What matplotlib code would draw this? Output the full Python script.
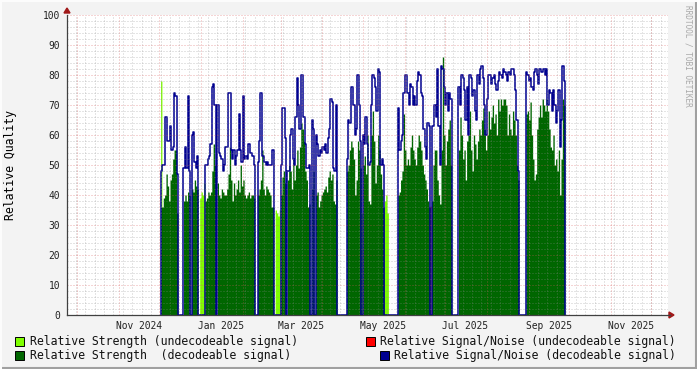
import numpy as np
import pandas as pd
import matplotlib
matplotlib.use('Agg')
import matplotlib.pyplot as plt
import matplotlib.dates as mdates
from matplotlib.patches import Rectangle, Polygon
from matplotlib.lines import Line2D

# daily values starting 2024-12-02, 0 = no data
start_day = '2024-12-02'

rs_dec = [
    36, 36, 39, 40, 47, 43, 38, 45, 47, 52,
    55, 55, 34, 0, 0, 0, 0, 38, 40, 38,
    41, 40, 0, 42, 41, 45, 43, 42, 0, 0,
    0, 0, 0, 38, 39, 41, 40, 41, 48, 57,
    50, 0, 44, 40, 39, 42, 41, 40, 40, 42,
    47, 56, 45, 38, 44, 40, 42, 45, 41, 50,
    43, 45, 40, 39, 40, 41, 39, 40, 40, 39,
    0, 0, 40, 42, 45, 55, 42, 40, 43, 42,
    41, 40, 36, 36, 0, 0, 0, 0, 0, 40,
    46, 48, 44, 0, 45, 50, 48, 42, 52, 45,
    50, 55, 49, 56, 64, 62, 58, 48, 45, 36,
    37, 0, 42, 48, 0, 40, 41, 36, 38, 40,
    41, 42, 43, 41, 46, 48, 45, 47, 38, 37,
    45, 0, 0, 0, 0, 0, 0, 0, 48, 50,
    55, 58, 56, 52, 40, 45, 58, 55, 49, 0,
    50, 53, 47, 60, 38, 37, 60, 68, 58, 44,
    50, 60, 55, 47, 42, 36, 0, 0, 0, 0,
    0, 0, 0, 0, 0, 0, 40, 41, 45, 48,
    67, 55, 50, 52, 50, 56, 60, 55, 52, 50,
    56, 60, 58, 55, 50, 47, 45, 42, 38, 36,
    0, 38, 50, 55, 55, 45, 40, 37, 55, 86,
    60, 50, 58, 62, 65, 50, 0, 0, 0, 0,
    0, 55, 66, 60, 52, 55, 45, 58, 60, 68,
    55, 48, 60, 57, 52, 58, 62, 60, 65, 69,
    62, 55, 60, 68, 62, 66, 70, 64, 67, 60,
    72, 68, 72, 70, 72, 72, 70, 60, 67, 62,
    60, 68, 65, 60, 50, 45, 0, 0, 0, 0,
    0, 67, 68, 65, 71, 60, 52, 45, 47, 62,
    66, 70, 66, 72, 70, 68, 72, 68, 62, 56,
    55, 60, 50, 52, 48, 55, 40, 52, 72, 70,
]

sn_dec = [
    48, 50, 50, 66, 66, 58, 58, 63, 55, 56,
    74, 73, 47, 0, 0, 0, 0, 49, 56, 49,
    73, 48, 0, 60, 61, 51, 49, 53, 0, 0,
    0, 0, 0, 50, 50, 52, 53, 57, 76, 77,
    70, 0, 70, 54, 53, 52, 48, 50, 56, 56,
    74, 74, 55, 52, 55, 50, 53, 55, 67, 55,
    51, 73, 52, 53, 52, 57, 54, 54, 53, 50,
    0, 0, 51, 58, 74, 53, 53, 51, 50, 51,
    50, 50, 50, 55, 0, 0, 0, 0, 0, 50,
    69, 69, 59, 0, 48, 48, 60, 62, 52, 50,
    66, 79, 70, 62, 80, 80, 66, 57, 49, 49,
    50, 0, 65, 62, 0, 60, 57, 53, 55, 54,
    56, 55, 57, 54, 59, 62, 72, 71, 49, 48,
    70, 0, 0, 0, 0, 0, 0, 0, 52, 65,
    64, 76, 76, 70, 60, 62, 80, 70, 58, 0,
    60, 57, 66, 57, 50, 51, 70, 80, 79, 76,
    68, 82, 81, 50, 52, 50, 0, 0, 0, 0,
    0, 0, 0, 0, 0, 0, 69, 55, 58, 60,
    74, 80, 80, 74, 70, 77, 76, 70, 73, 70,
    78, 81, 80, 74, 73, 62, 56, 52, 64, 63,
    0, 63, 63, 70, 66, 82, 63, 50, 83, 82,
    76, 70, 74, 68, 74, 72, 0, 0, 0, 0,
    0, 76, 70, 80, 79, 75, 65, 76, 60, 80,
    79, 73, 75, 68, 65, 80, 77, 82, 83, 79,
    70, 60, 72, 80, 80, 77, 79, 80, 77, 75,
    78, 81, 80, 79, 82, 81, 80, 78, 81, 80,
    82, 82, 80, 75, 65, 48, 0, 0, 0, 0,
    0, 81, 80, 78, 79, 76, 75, 81, 82, 80,
    77, 82, 81, 81, 82, 80, 82, 70, 75, 74,
    68, 75, 70, 64, 68, 75, 56, 65, 83, 78,
]

# undecodeable samples (day index, value)
und_days = [0, 29, 30, 31, 32, 85, 86, 87, 88, 149, 166, 167, 168]
rs_und_vals = [78, 39, 41, 40, 44, 35, 34, 33, 35, 34, 38, 40, 34]
sn_und_days = [200]
sn_und_vals = [36]

x_labels = ['Nov 2024', 'Jan 2025', 'Mar 2025', 'May 2025', 'Jul 2025', 'Sep 2025', 'Nov 2025']
label_dates = ['2024-11-16', '2025-01-16', '2025-03-16', '2025-05-16', '2025-07-16', '2025-09-16', '2025-11-16']

LGREEN = '#7fff00'
DGREEN = '#006600'
NAVY = '#000090'
RED = '#ff0000'
MONO = 'DejaVu Sans Mono'

n = len(rs_dec)
edges = mdates.date2num(pd.date_range(start_day, periods=n + 1, freq='D'))
rs_dec = np.array(rs_dec, float)
sn_dec = np.array(sn_dec, float)
rs_und = np.zeros(n)
rs_und[und_days] = rs_und_vals

W, H = 697, 369
fig = plt.figure(figsize=(W / 100, H / 100), dpi=100, facecolor='#f3f3f3')
ax = fig.add_axes([67 / W, 1 - 315 / H, (668 - 67) / W, 300 / H])
ax.set_facecolor('white')

nov1 = mdates.date2num(pd.Timestamp('2024-11-01'))
x0, x1 = nov1 - 38.4, nov1 + 407.4
ax.set_xlim(x0, x1)
ax.set_ylim(0, 100)

# areas and lines
ax.fill_between(edges, np.append(rs_und, rs_und[-1]), step='post', color=LGREEN, lw=0, zorder=1)
for d, v in zip(sn_und_days, sn_und_vals):
    ax.step([edges[d], edges[d], edges[d + 1]], [0, v, 0], where='post', color=RED, lw=1.0, zorder=2)
ax.fill_between(edges, np.append(rs_dec, rs_dec[-1]), step='post', color=DGREEN, lw=0, zorder=3)
xs = np.concatenate([[edges[0]], edges])
ys = np.concatenate([[0], sn_dec, [0]])
ax.step(xs, ys, where='post', color=NAVY, lw=1.1, zorder=4)

# grid on top
minor_c = (0.55, 0.55, 0.55, 0.45)
major_c = (0.85, 0.35, 0.35, 0.5)
dots = (0, (1, 2))
weeks = mdates.date2num(pd.date_range(mdates.num2date(x0).date(), mdates.num2date(x1).date(), freq='W-MON'))
months = mdates.date2num(pd.date_range('2024-10-01', '2025-12-31', freq='MS'))
months = months[(months > x0) & (months < x1)]
ax.vlines(weeks, 0, 100, colors=[minor_c], lw=0.72, linestyles=[dots], zorder=5)
ax.vlines(months, 0, 100, colors=[major_c], lw=0.72, linestyles=[dots], zorder=6)
yminor = [v for v in range(2, 100, 2) if v % 10]
ax.hlines(yminor, x0, x1, colors=[minor_c], lw=0.72, linestyles=[dots], zorder=5)
ax.hlines(range(10, 101, 10), x0, x1, colors=[major_c], lw=0.72, linestyles=[dots], zorder=6)

for s in ['top', 'right']:
    ax.spines[s].set_visible(False)
for s in ['left', 'bottom']:
    ax.spines[s].set_color('#404040')
    ax.spines[s].set_linewidth(0.9)
    ax.spines[s].set_zorder(10)

ax.set_xticks(mdates.date2num(pd.to_datetime(label_dates)))
ax.set_xticklabels(x_labels, fontfamily=MONO, fontsize=6.9, color='#222222')
ax.set_yticks(range(0, 101, 10))
ax.set_yticklabels([str(v) for v in range(0, 101, 10)], fontfamily=MONO, fontsize=6.9, color='#222222')
ax.tick_params(axis='x', length=0, pad=4)
ax.tick_params(axis='y', length=0, pad=5)
ax.set_ylabel('Relative Quality', fontfamily=MONO, fontsize=8.3)
ax.yaxis.set_label_coords(-50 / 601, 0.5)


def fx(px):
    return px / W


def fy(py):
    return 1 - py / H


# axis arrows
arrow_c = '#a01818'
fig.add_artist(Line2D([fx(668), fx(670)], [fy(315), fy(315)], color='#404040', lw=0.9))
fig.add_artist(Polygon([(fx(669), fy(312)), (fx(669), fy(318)), (fx(674), fy(315))],
                       closed=True, color=arrow_c, transform=fig.transFigure))
fig.add_artist(Polygon([(fx(64), fy(13)), (fx(70), fy(13)), (fx(67), fy(8))],
                       closed=True, color=arrow_c, transform=fig.transFigure))

# legend
entries = [
    (15, 341, LGREEN, 30, 'Relative Strength (undecodeable signal)'),
    (366, 341, RED, 380, 'Relative Signal/Noise (undecodeable signal)'),
    (15, 355, DGREEN, 30, 'Relative Strength  (decodeable signal)'),
    (380, 355, NAVY, 394, 'Relative Signal/Noise (decodeable signal)'),
]
for sx, sy, col, tx, label in entries:
    fig.add_artist(Rectangle((fx(sx), fy(sy + 4.5)), 9 / W, 9 / H, facecolor=col,
                             edgecolor='black', lw=0.7, transform=fig.transFigure))
    fig.text(fx(tx), fy(sy), label, fontfamily=MONO, fontsize=8.3, va='center', ha='left', color='#111111')

fig.text(fx(688), fy(5), 'RRDTOOL / TOBI OETIKER', rotation=270, fontfamily=MONO, fontsize=5.6,
         color='#a8a8a8', ha='center', va='top')

# frame shading
fig.add_artist(Line2D([0, 1], [fy(368), fy(368)], color='#a0a0a0', lw=1.5))
fig.add_artist(Line2D([fx(696), fx(696)], [0, 1], color='#a0a0a0', lw=1.5))
fig.add_artist(Line2D([0, 1], [fy(0.5), fy(0.5)], color='#fcfcfc', lw=1.5))
fig.add_artist(Line2D([fx(0.5), fx(0.5)], [0, 1], color='#fcfcfc', lw=1.5))

fig.savefig('out.png', dpi=100, facecolor=fig.get_facecolor())
